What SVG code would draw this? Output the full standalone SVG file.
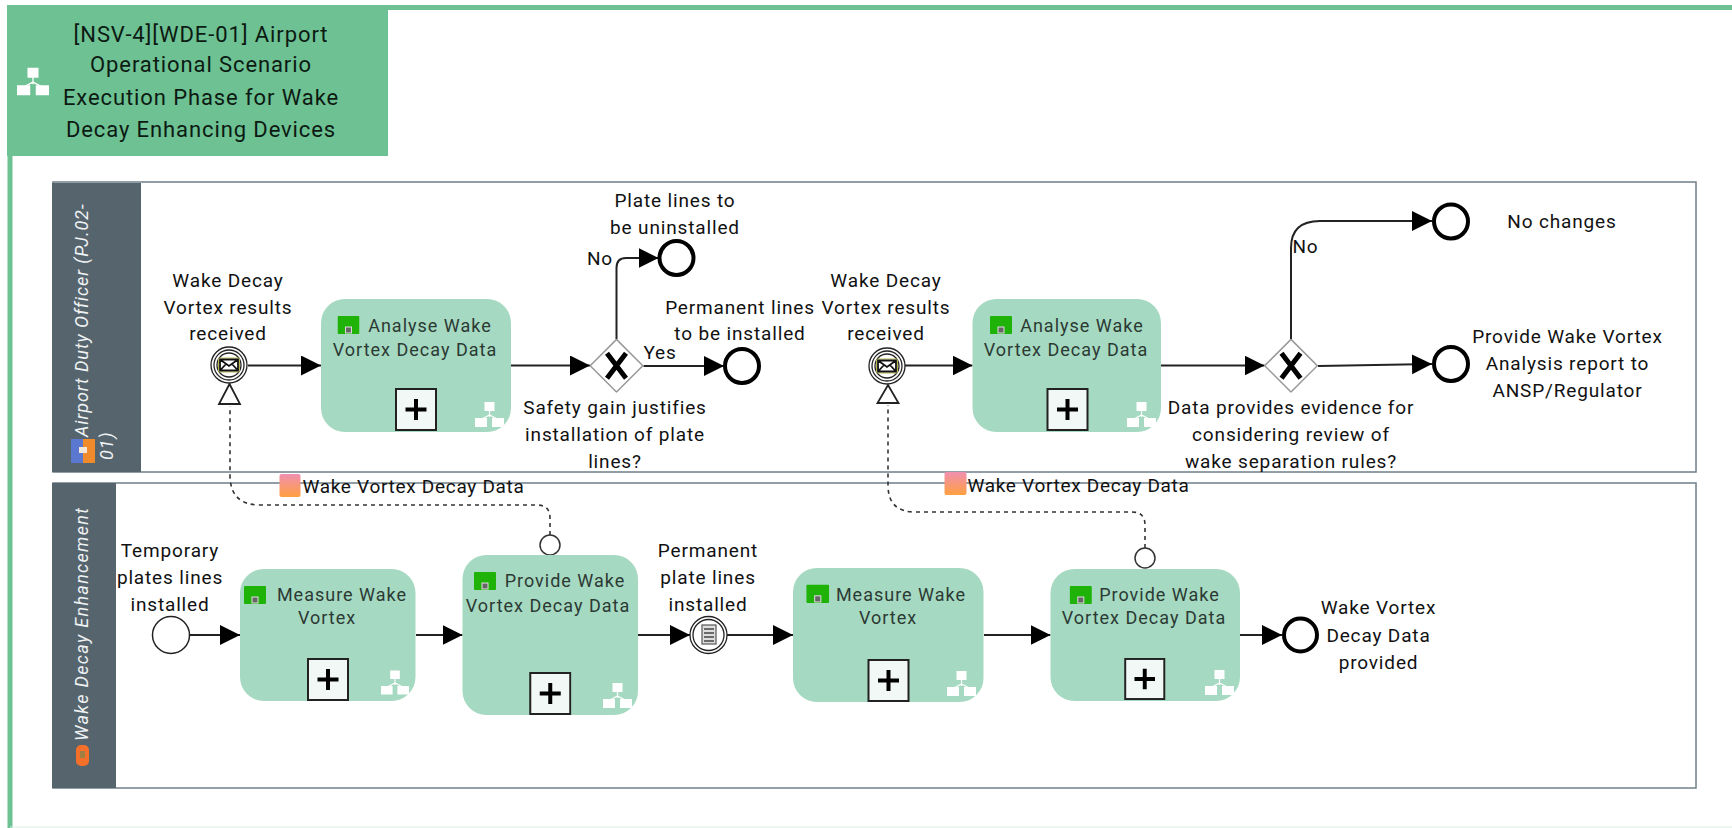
<svg xmlns="http://www.w3.org/2000/svg" width="1732" height="828" viewBox="0 0 1732 828">
<style>
text{font-family:"Roboto","Liberation Sans",sans-serif;fill:#111;text-anchor:middle}
.lbl{font-size:19px;letter-spacing:.85px}
.data{font-size:19px;letter-spacing:.7px}
.task{font-size:18px;letter-spacing:1px;fill:#2c3a34}
.head{font-size:22px;letter-spacing:.9px;fill:#0c1a12}
.lane-t{font-size:18px;font-style:italic;fill:#eef2f3;text-anchor:start;letter-spacing:.9px}
.lane-w{font-size:18px;font-style:italic;fill:#eef2f3;text-anchor:start;letter-spacing:1.3px}
.lane{fill:#fff;stroke:#6f7f88;stroke-width:1.5}
.lanehead{fill:#56646e}
.t{fill:#a5d9c1}
.seq{fill:none;stroke:#222;stroke-width:2;marker-end:url(#arr)}
.msg{fill:none;stroke:#333;stroke-width:1.6;stroke-dasharray:4 4}
.end{fill:#fff;stroke:#000;stroke-width:4}
.ev{fill:#fff;stroke:#222;stroke-width:1.3}
.gw{fill:#fff;stroke:#999;stroke-width:1.5}
.x{stroke:#000;stroke-width:5;fill:none}
</style>
<defs>
<marker id="arr" markerUnits="userSpaceOnUse" markerWidth="21" markerHeight="22" refX="20" refY="10" orient="auto"><path d="M0 0L20 10L0 20Z" fill="#000"/></marker>
<linearGradient id="dg" x1="0" y1="0" x2="0" y2="1"><stop offset="0" stop-color="#f08fb0"/><stop offset="1" stop-color="#ffa040"/></linearGradient>
<symbol id="hier" viewBox="0 0 29 25"><path d="M14.5 8V15M5 18L14.5 13L24 18" stroke="#fff" stroke-width="1.2" fill="none"/><path d="M9.500 0H19.500V9H9.500ZM0 16H12V25H0ZM17 16H29V25H17Z" fill="#fff"/></symbol>
<symbol id="plus" viewBox="0 0 42 43"><rect x="1" y="1" width="40" height="41" fill="#f2f8f5" stroke="#222" stroke-width="2"/><path d="M21 11V32M10.500 21.500H31.500" stroke="#000" stroke-width="4" fill="none"/></symbol>
<symbol id="gear" viewBox="0 0 22 18"><rect width="22" height="18" rx="1" fill="#1fb30a"/><rect x="8" y="11" width="6" height="6" fill="#666" stroke="#ddd" stroke-width="1"/></symbol>
<symbol id="gate" viewBox="0 0 54 54"><path class="gw" d="M27 .7L53.300 27L27 53.300L.7 27Z"/><path class="x" d="M17.500 14.500L36.500 39.500M36.500 14.500L17.500 39.500"/></symbol>
<symbol id="mail" viewBox="0 0 38 38"><circle class="ev" cx="19" cy="19" r="18"/><circle class="ev" cx="19" cy="19" r="15"/><circle class="ev" cx="19" cy="19" r="12"/><rect x="8.500" y="12" width="21" height="14" rx="1.500" fill="#fff" stroke="#b9b94a" stroke-width="1"/><path d="M10 13.500H28V24.500H10ZM10 13.500L19 20L28 13.500M10 24.500L16 18M28 24.500L22 18" fill="none" stroke="#111" stroke-width="1.800"/></symbol>
</defs>

<g id="frame">
<path d="M10 828V7.500H1732" fill="none" stroke="#6dc193" stroke-width="5"/>
<path d="M10 827H1732" stroke="#dcefe6" stroke-width="1"/>
<rect x="7" y="5" width="381" height="151" fill="#6dc193"/>
<use href="#hier" x="17" y="66" width="32" height="31"/>
<text class="head" x="201" y="42">[NSV-4][WDE-01] Airport</text>
<text class="head" x="201" y="72">Operational Scenario</text>
<text class="head" x="201" y="105">Execution Phase for Wake</text>
<text class="head" x="201" y="137">Decay Enhancing Devices</text>
</g>

<g id="lane-airport">
<rect class="lane" x="53" y="182" width="1643" height="290"/>
<rect class="lanehead" x="52" y="183" width="89" height="289"/>
<rect x="71" y="439" width="12" height="24" fill="#5b78d0"/><rect x="83" y="439" width="12" height="24" fill="#f08a2a"/><rect x="79" y="447" width="8" height="6" fill="#f4e6d8"/>
<g transform="translate(88 437) rotate(-90)"><text class="lane-t">Airport Duty Officer (PJ.02-</text></g>
<g transform="translate(113 460) rotate(-90)"><text class="lane-t">01)</text></g>
</g>
<g id="lane-wake">
<rect class="lane" x="53" y="483" width="1643" height="305"/>
<rect class="lanehead" x="52" y="483" width="64" height="305"/>
<rect x="76" y="745" width="13" height="21" rx="5" fill="#f4702a"/><rect x="80" y="751" width="5" height="7" fill="#a08040"/>
<g transform="translate(88 741) rotate(-90)"><text class="lane-w">Wake Decay Enhancement</text></g>
</g>

<g id="connectors">
<path class="seq" d="M248 365.500H321"/>
<path class="seq" d="M511 365.500H590"/>
<path class="seq" d="M616.500 339V268Q616.500 258 626 258H658.500"/>
<path class="seq" d="M643.500 366H724"/>
<path class="seq" d="M905 365.500H972.500"/>
<path class="seq" d="M1161 365.500H1264.500"/>
<path class="seq" d="M1291 339V248Q1291 221 1320 221H1432"/>
<path class="seq" d="M1318 366L1432 364"/>
<path class="seq" d="M189 635H240"/>
<path class="seq" d="M416 635H462.500"/>
<path class="seq" d="M638 635H690"/>
<path class="seq" d="M727 635H793"/>
<path class="seq" d="M984 635H1050.500"/>
<path class="seq" d="M1240 635H1282"/>
<path class="msg" d="M550 535V518Q550 505 537 505H260Q230 505 230 475V406"/>
<path class="msg" d="M1145 548V525Q1145 512 1132 512H915Q888 512 888 485V405"/>
<path d="M229.500 384L240 404H219Z" fill="#fff" stroke="#222" stroke-width="1.800"/>
<path d="M888 385L898.500 403H877.500Z" fill="#fff" stroke="#222" stroke-width="1.800"/>
<circle cx="550" cy="545" r="10" fill="#fff" stroke="#333" stroke-width="1.500"/>
<circle cx="1145" cy="558" r="10" fill="#fff" stroke="#333" stroke-width="1.500"/>
</g>

<g id="ev-received-1"><use href="#mail" x="210" y="346" width="38" height="38"/>
<text class="lbl" x="228" y="287">Wake Decay</text><text class="lbl" x="228" y="313.500">Vortex results</text><text class="lbl" x="228" y="340">received</text></g>
<g id="task-analyse-1"><rect class="t" x="321" y="299" width="190" height="133" rx="24"/><use href="#gear" x="337.500" y="316" width="22" height="18"/><use href="#plus" x="395" y="388" width="42" height="43"/><use href="#hier" x="475" y="402" width="29" height="25"/>
<text class="task" x="430" y="332">Analyse Wake</text><text class="task" x="415" y="356">Vortex Decay Data</text></g>
<g id="gw-safety"><use href="#gate" x="589.500" y="338.700" width="54" height="54"/>
<text class="lbl" x="615" y="414">Safety gain justifies</text><text class="lbl" x="615" y="441">installation of plate</text><text class="lbl" x="615" y="468">lines?</text>
<text class="lbl" x="600" y="265">No</text><text class="lbl" x="660" y="359">Yes</text></g>
<g id="end-uninstall"><circle class="end" cx="676.500" cy="258" r="17"/><text class="lbl" x="675" y="207">Plate lines to</text><text class="lbl" x="675" y="233.500">be uninstalled</text></g>
<g id="end-install"><circle class="end" cx="742" cy="366" r="17"/><text class="lbl" x="740" y="313.500">Permanent lines</text><text class="lbl" x="740" y="340">to be installed</text></g>
<g id="ev-received-2"><use href="#mail" x="868" y="347" width="38" height="38"/>
<text class="lbl" x="886" y="287">Wake Decay</text><text class="lbl" x="886" y="313.500">Vortex results</text><text class="lbl" x="886" y="340">received</text></g>
<g id="task-analyse-2"><rect class="t" x="972.500" y="299" width="188.500" height="133" rx="24"/><use href="#gear" x="990" y="316" width="22" height="18"/><use href="#plus" x="1046" y="388" width="43" height="43"/><use href="#hier" x="1127" y="402" width="29" height="25"/>
<text class="task" x="1082" y="332">Analyse Wake</text><text class="task" x="1066" y="356">Vortex Decay Data</text></g>
<g id="gw-evidence"><use href="#gate" x="1264" y="338.700" width="54" height="54"/>
<text class="lbl" x="1291" y="414">Data provides evidence for</text><text class="lbl" x="1291" y="441">considering review of</text><text class="lbl" x="1291" y="468">wake separation rules?</text>
<text class="lbl" x="1305.500" y="253">No</text></g>
<g id="end-nochanges"><circle class="end" cx="1451" cy="221.500" r="17"/><text class="lbl" x="1562" y="228">No changes</text></g>
<g id="end-report"><circle class="end" cx="1451" cy="364" r="17"/><text class="lbl" x="1567.500" y="343">Provide Wake Vortex</text><text class="lbl" x="1567.500" y="370">Analysis report to</text><text class="lbl" x="1567.500" y="397">ANSP/Regulator</text></g>

<g id="data-1"><rect x="279.500" y="474" width="21" height="23" rx="2" fill="url(#dg)"/><text class="data" x="413.500" y="493">Wake Vortex Decay Data</text></g>
<g id="data-2"><rect x="944.500" y="472" width="22" height="23" rx="2" fill="url(#dg)"/><text class="data" x="1078.500" y="491.500">Wake Vortex Decay Data</text></g>

<g id="start-temp"><circle class="ev" style="stroke-width:1.500" cx="171" cy="635" r="18.500"/><text class="lbl" x="170" y="557">Temporary</text><text class="lbl" x="170" y="584">plates lines</text><text class="lbl" x="170" y="611">installed</text></g>
<g id="task-measure-1"><rect class="t" x="240" y="569" width="175.500" height="132" rx="24"/><use href="#gear" x="244" y="586" width="22" height="18"/><use href="#plus" x="307" y="658" width="42" height="43"/><use href="#hier" x="381" y="670" width="28" height="25"/>
<text class="task" x="342" y="601">Measure Wake</text><text class="task" x="327" y="624">Vortex</text></g>
<g id="task-provide-1"><rect class="t" x="462.500" y="555" width="175.500" height="160" rx="24"/><use href="#gear" x="474" y="572" width="22" height="18"/><use href="#plus" x="529" y="672" width="42.500" height="43"/><use href="#hier" x="603" y="683" width="29" height="25"/>
<text class="task" x="565" y="587">Provide Wake</text><text class="task" x="548" y="612">Vortex Decay Data</text></g>
<g id="ev-permanent"><circle class="ev" cx="708.500" cy="635" r="18.500"/><circle class="ev" cx="708.500" cy="635" r="15.500"/><rect x="702" y="625" width="14" height="19" fill="#ddd" stroke="#555" stroke-width="1.200"/><path d="M704 629H714M704 633H714M704 637H714M704 641H714" stroke="#444" stroke-width="1.300"/>
<text class="lbl" x="708" y="557">Permanent</text><text class="lbl" x="708" y="584">plate lines</text><text class="lbl" x="708" y="611">installed</text></g>
<g id="task-measure-2"><rect class="t" x="793" y="568" width="190.500" height="134" rx="24"/><use href="#gear" x="806" y="584.500" width="23.500" height="18.500"/><use href="#plus" x="867" y="659" width="43" height="43"/><use href="#hier" x="947" y="671" width="29" height="25"/>
<text class="task" x="901" y="601">Measure Wake</text><text class="task" x="888" y="624">Vortex</text></g>
<g id="task-provide-2"><rect class="t" x="1050.500" y="569" width="189.500" height="132" rx="24"/><use href="#gear" x="1069.500" y="586" width="22.500" height="18"/><use href="#plus" x="1123.500" y="658" width="42.500" height="42"/><use href="#hier" x="1205" y="670" width="29" height="25"/>
<text class="task" x="1159.500" y="601">Provide Wake</text><text class="task" x="1144" y="624">Vortex Decay Data</text></g>
<g id="end-provided"><circle class="end" cx="1300.500" cy="635" r="16.500"/><text class="lbl" x="1378.500" y="614">Wake Vortex</text><text class="lbl" x="1378.500" y="641.500">Decay Data</text><text class="lbl" x="1378.500" y="669">provided</text></g>
</svg>
